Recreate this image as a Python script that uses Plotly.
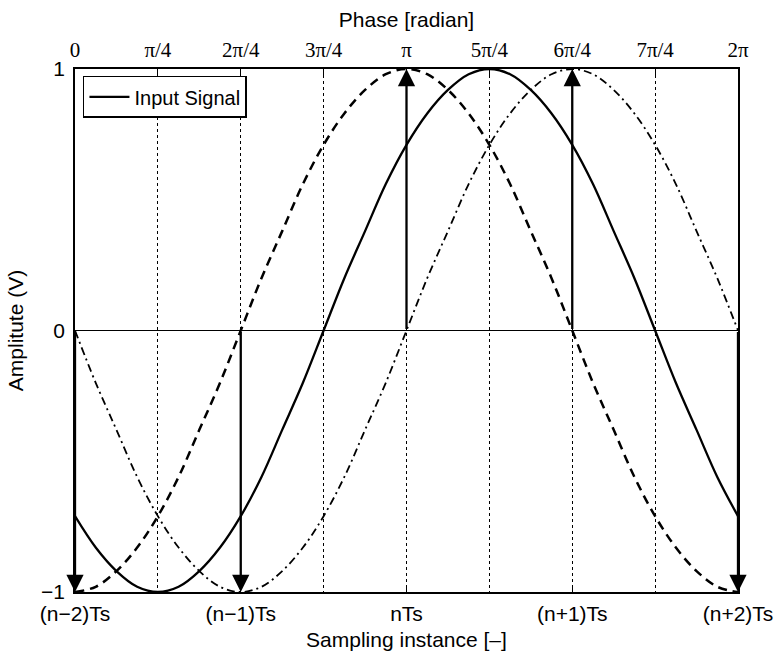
import numpy as np
import plotly.graph_objects as go

# Phase grid: every pi/16 from 0 to 2*pi
phase = [k * np.pi / 16 for k in range(33)]

# Input signal (solid)
input_signal = [-0.71, -0.83, -0.92, -0.98, -1.0, -0.98, -0.92, -0.83, -0.71, -0.56, -0.38, -0.2,
                0.0, 0.2, 0.38, 0.56, 0.71, 0.83, 0.92, 0.98, 1.0, 0.98, 0.92, 0.83, 0.71, 0.56,
                0.38, 0.2, 0.0, -0.2, -0.38, -0.56, -0.71]
# Dashed reference
dashed_ref = [-1.0, -0.98, -0.92, -0.83, -0.71, -0.56, -0.38, -0.2, 0.0, 0.2, 0.38, 0.56, 0.71,
              0.83, 0.92, 0.98, 1.0, 0.98, 0.92, 0.83, 0.71, 0.56, 0.38, 0.2, 0.0, -0.2, -0.38,
              -0.56, -0.71, -0.83, -0.92, -0.98, -1.0]
# Dash-dot reference
dashdot_ref = [0.0, -0.2, -0.38, -0.56, -0.71, -0.83, -0.92, -0.98, -1.0, -0.98, -0.92, -0.83,
               -0.71, -0.56, -0.38, -0.2, 0.0, 0.2, 0.38, 0.56, 0.71, 0.83, 0.92, 0.98, 1.0, 0.98,
               0.92, 0.83, 0.71, 0.56, 0.38, 0.2, 0.0]

# Sampling arrows
sample_x = [0, np.pi / 2, np.pi, 3 * np.pi / 2, 2 * np.pi]
sample_y = [-1, -1, 1, 1, -1]

bottom_tickvals = [0, np.pi / 2, np.pi, 3 * np.pi / 2, 2 * np.pi]
bottom_ticktext = ["(n\u22122)Ts", "(n\u22121)Ts", "nTs", "(n+1)Ts", "(n+2)Ts"]
top_tickvals = [k * np.pi / 4 for k in range(9)]
top_ticktext = ["0", "\u03c0/4", "2\u03c0/4", "3\u03c0/4", "\u03c0", "5\u03c0/4", "6\u03c0/4", "7\u03c0/4", "2\u03c0"]
y_tickvals = [-1, 0, 1]
y_ticktext = ["\u22121", "0", "1"]

SANS = "Liberation Sans, Arial, sans-serif"
SERIF = "Liberation Serif, Times New Roman, serif"

fig = go.Figure()
fig.add_trace(go.Scatter(x=phase, y=dashed_ref, mode="lines", line=dict(color="black", width=2.5, dash="9px,6px", shape="spline"),
                         showlegend=False, xaxis="x2", yaxis="y"))
fig.add_trace(go.Scatter(x=phase, y=dashdot_ref, mode="lines", line=dict(color="black", width=1.8, dash="8px,4px,2px,4px", shape="spline"),
                         showlegend=False, xaxis="x2", yaxis="y"))
fig.add_trace(go.Scatter(x=phase, y=input_signal, mode="lines", line=dict(color="black", width=2.3, shape="spline"),
                         name="Input Signal", xaxis="x", yaxis="y"))

for sx, sy in zip(sample_x, sample_y):
    fig.add_annotation(x=sx, y=sy, ax=sx, ay=0, xref="x", yref="y", axref="x", ayref="y",
                       showarrow=True, arrowhead=2, arrowsize=1.5, arrowwidth=2.3, arrowcolor="black",
                       standoff=0, startstandoff=0, text="")

rng = [0, 2 * np.pi]
fig.update_layout(
    width=777, height=656,
    margin=dict(l=75, r=39, t=69, b=64),
    paper_bgcolor="white", plot_bgcolor="white",
    showlegend=True,
    legend=dict(x=0.012, y=0.987, xanchor="left", yanchor="top", bgcolor="white",
                bordercolor="black", borderwidth=1.5, font=dict(family=SANS, size=20, color="black"),
                itemwidth=40, tracegroupgap=0),
    xaxis=dict(range=rng, tickvals=bottom_tickvals, ticktext=bottom_ticktext,
               tickfont=dict(family=SANS, size=21, color="black"),
               title=dict(text="Sampling instance [\u2013]", font=dict(family=SANS, size=21, color="black"), standoff=8),
               showgrid=False, zeroline=False, showline=True, linecolor="black", linewidth=1.5, mirror=True,
               ticks="inside", ticklen=6, tickcolor="black", ticklabelstandoff=2, automargin=False),
    xaxis2=dict(range=rng, overlaying="x", side="top", tickvals=top_tickvals, ticktext=top_ticktext,
                tickfont=dict(family=SERIF, size=21, color="black"),
                title=dict(text="Phase [radian]", font=dict(family=SANS, size=21, color="black"), standoff=4),
                showgrid=True, gridcolor="black", gridwidth=1, griddash="dot", zeroline=False,
                showline=False, ticks="inside", ticklen=6, tickcolor="black", ticklabelstandoff=7,
                automargin=False),
    yaxis=dict(range=[-1, 1], tickvals=y_tickvals, ticktext=y_ticktext,
               tickfont=dict(family=SANS, size=21, color="black"),
               title=dict(text="Amplitute (V)", font=dict(family=SANS, size=21, color="black"), standoff=12),
               showgrid=False, zeroline=True, zerolinecolor="black", zerolinewidth=1,
               showline=True, linecolor="black", linewidth=1.5, mirror=True,
               ticks="inside", ticklen=6, tickcolor="black", ticklabelstandoff=4, automargin=False),
)

fig.write_html("out.html")
